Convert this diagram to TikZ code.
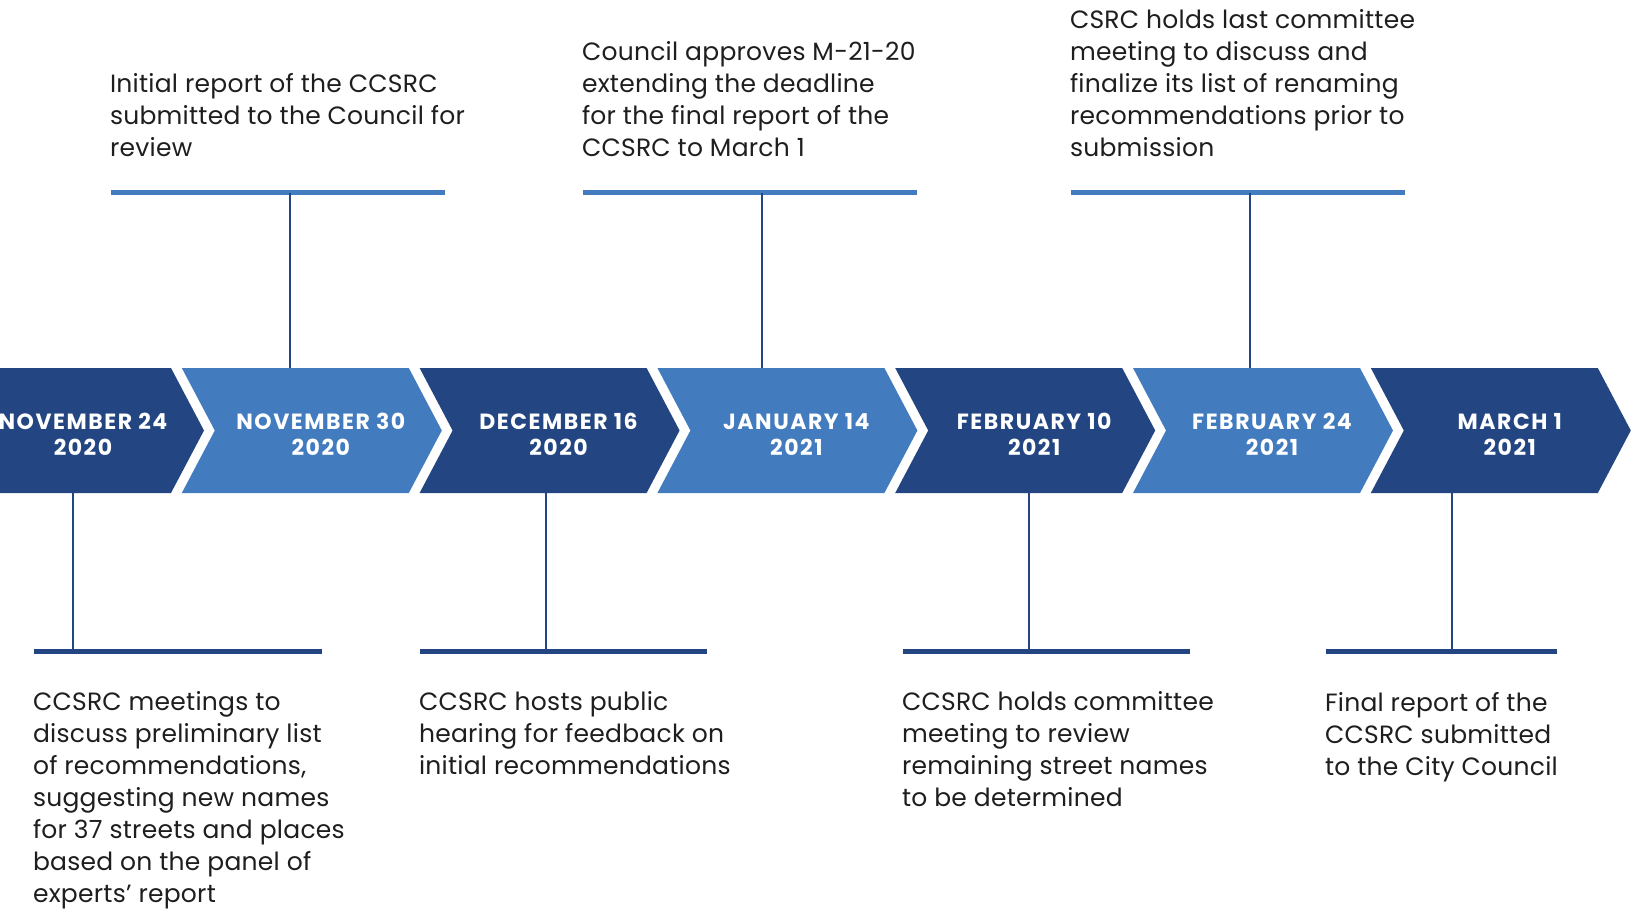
\documentclass[tikz,border=0pt]{standalone}
\usepackage{fontspec}
\setmainfont{Poppins}[LetterSpace=1]
\newfontfamily\datefont{Poppins}[LetterSpace=7]
\usepackage{xcolor}
\usepackage{tikz}
\usetikzlibrary{positioning}
\definecolor{navy}{RGB}{35,70,130}
\definecolor{skyblue}{RGB}{67,124,190}
\definecolor{ink}{RGB}{30,30,30}

\begin{document}
\begin{tikzpicture}[x=1pt,y=-1pt,
    date node/.style={font=\fontsize{22}{26}\selectfont\datefont\bfseries,text=white,align=center,inner sep=0pt,
        execute at begin node=\strut,execute at end node=\strut},
    event text/.style={font=\fontsize{25}{32}\selectfont,text=ink,align=left,inner sep=0pt,
        execute at begin node=\strut,execute at end node=\strut},
    top bar/.style={fill=skyblue,inner sep=0pt,minimum height=5pt},
    bottom bar/.style={fill=navy,inner sep=0pt,minimum height=5pt},
    stem/.style={draw=navy,line width=1.5pt}]
    \useasboundingbox (0,0) rectangle (1632,909);
    \clip (0,0) rectangle (1632,909);
    \coordinate (bandtop) at (0,368);
    \coordinate (bandbot) at (0,493);

    \foreach \i/\col/\dt in {1/navy/{NOVEMBER 24\\2020},2/skyblue/{NOVEMBER 30\\2020},
            3/navy/{DECEMBER 16\\2020},4/skyblue/{JANUARY 14\\2021},5/navy/{FEBRUARY 10\\2021},
            6/skyblue/{FEBRUARY 24\\2021},7/navy/{MARCH 1\\2021}} {
        \pgfmathsetmacro\L{-56+(\i-1)*237.8}
        \fill[\col] (\L,368) -- ++(227,0) -- ++(33,62.5) -- ++(-33,62.5) -- ++(-227,0) -- ++(33,-62.5) -- cycle;
        \node[date node] (d\i) at (\L+139,438) {\dt};
    }

    \node[top bar,minimum width=334pt] (bar2) at (278,193) {};
    \node[top bar,minimum width=334pt] (bar4) at (750,193) {};
    \node[top bar,minimum width=334pt] (bar6) at (1238,193) {};
    \node[bottom bar,minimum width=288pt] (bar1) at (178,651) {};
    \node[bottom bar,minimum width=287pt] (bar3) at (563.5,651) {};
    \node[bottom bar,minimum width=287pt] (bar5) at (1046.5,651) {};
    \node[bottom bar,minimum width=231pt] (bar7) at (1441.5,651) {};

    \node[event text,above right=24pt and -1pt of bar2.north west] (ev2) {Initial report of the CCSRC\\submitted to the Council for\\review};
    \node[event text,above right=24pt and -1pt of bar4.north west] (ev4) {Council approves M-21-20\\extending the deadline\\for the final report of the\\CCSRC to March 1};
    \node[event text,above right=24pt and -1pt of bar6.north west] (ev6) {CSRC holds last committee\\meeting to discuss and\\finalize its list of renaming\\recommendations prior to\\submission};
    \node[event text,below right=38pt and -1pt of bar1.south west] (ev1) {CCSRC meetings to\\discuss preliminary list\\of recommendations,\\suggesting new names\\for 37 streets and places\\based on the panel of\\experts’ report};
    \node[event text,below right=38pt and -1pt of bar3.south west] (ev3) {CCSRC hosts public\\hearing for feedback on\\initial recommendations};
    \node[event text,below right=38pt and -1pt of bar5.south west] (ev5) {CCSRC holds committee\\meeting to review\\remaining street names\\to be determined};
    \node[event text,below right=38pt and -1pt of bar7.south west] (ev7) {Final report of the\\CCSRC submitted\\to the City Council};

    \coordinate (foot2) at (290,193);
    \coordinate (foot4) at (762,193);
    \coordinate (foot6) at (1250,193);
    \coordinate (foot1) at (73,651);
    \coordinate (foot3) at (546,651);
    \coordinate (foot5) at (1029,651);
    \coordinate (foot7) at (1452,651);
    \draw[stem] (foot2) -- (foot2 |- bandtop);
    \draw[stem] (foot4) -- (foot4 |- bandtop);
    \draw[stem] (foot6) -- (foot6 |- bandtop);
    \draw[stem] (foot1 |- bandbot) -- (foot1);
    \draw[stem] (foot3 |- bandbot) -- (foot3);
    \draw[stem] (foot5 |- bandbot) -- (foot5);
    \draw[stem] (foot7 |- bandbot) -- (foot7);
\end{tikzpicture}
\end{document}
